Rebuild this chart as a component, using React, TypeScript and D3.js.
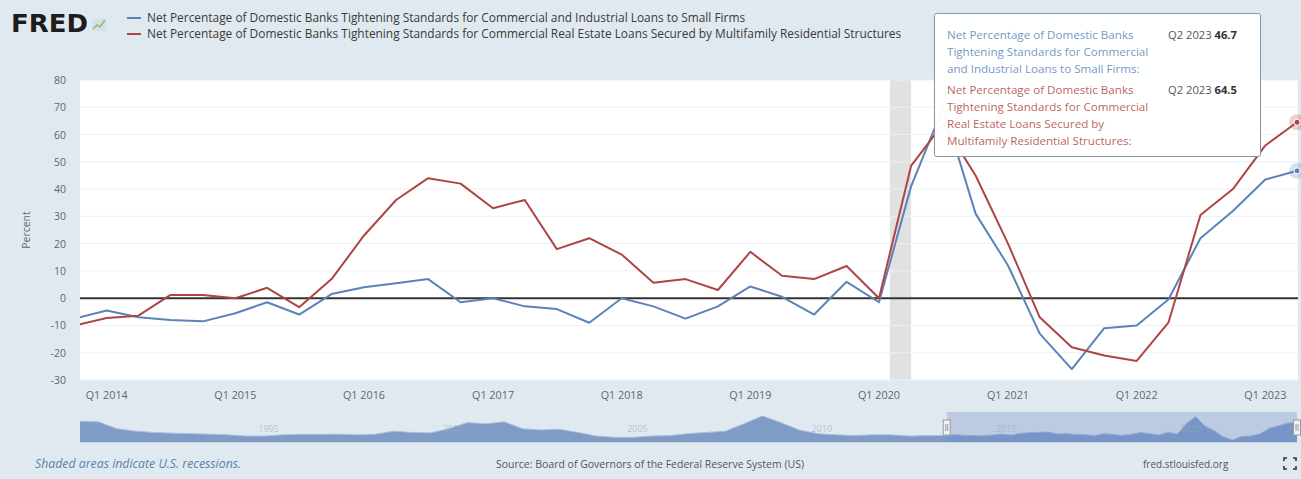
import React from "react";
import * as d3 from "d3";

// ---------- data ----------
const quarters = [
  "Q4 2013",
  "Q1 2014", "Q2 2014", "Q3 2014", "Q4 2014",
  "Q1 2015", "Q2 2015", "Q3 2015", "Q4 2015",
  "Q1 2016", "Q2 2016", "Q3 2016", "Q4 2016",
  "Q1 2017", "Q2 2017", "Q3 2017", "Q4 2017",
  "Q1 2018", "Q2 2018", "Q3 2018", "Q4 2018",
  "Q1 2019", "Q2 2019", "Q3 2019", "Q4 2019",
  "Q1 2020", "Q2 2020", "Q3 2020", "Q4 2020",
  "Q1 2021", "Q2 2021", "Q3 2021", "Q4 2021",
  "Q1 2022", "Q2 2022", "Q3 2022", "Q4 2022",
  "Q1 2023", "Q2 2023",
];

const smallFirmsCI = [
  -7.5,
  -4.5, -7, -8, -8.5,
  -5.5, -1.5, -6, 1.5,
  4, 5.5, 7, -1.5,
  0, -3, -4, -9,
  0, -3, -7.5, -3,
  4.3, 0.5, -6, 6,
  -1.5, 41, 70, 31,
  12, -13, -26, -11,
  -10, -0.5, 22, 32,
  43.5, 46.7,
];

const multifamilyCRE = [
  -10,
  -7.3, -6.4, 1.2, 1.2,
  0, 3.8, -3.3, 7,
  23, 36, 44, 42,
  33, 36, 18, 22,
  16, 5.7, 7, 3,
  17, 8.2, 7, 11.8,
  0, 48.5, 64, 45,
  20, -7, -18, -21,
  -23, -9, 30.5, 40,
  56, 64.5,
];

// navigator history of the first series (semi-annual estimates before the visible window)
const navHistoryDates = [
  "1990-04", "1990-10", "1991-04", "1991-10", "1992-04", "1992-10", "1993-04", "1993-10",
  "1994-04", "1994-10", "1995-04", "1995-10", "1996-04", "1996-10", "1997-04", "1997-10",
  "1998-04", "1998-10", "1999-04", "1999-10", "2000-04", "2000-10", "2001-04", "2001-10",
  "2002-04", "2002-10", "2003-04", "2003-10", "2004-04", "2004-10", "2005-04", "2005-10",
  "2006-04", "2006-10", "2007-04", "2007-10", "2008-04", "2008-10", "2009-04", "2009-10",
  "2010-04", "2010-10", "2011-04", "2011-10", "2012-04", "2012-10", "2013-04",
];
const navHistoryValues = [
  50, 48, 20, 10, 5, 2, 0, -2,
  -5, -10, -10, -5, -3, -3, -2, -5,
  -3, 10, 5, 3, 20, 45, 40, 48,
  20, 15, 18, 5, -10, -15, -15, -10,
  -8, 0, 5, 10, 40, 72, 45, 15,
  0, -5, -8, -5, -5, -10, -8,
];
const navTickYears = [1995, 2000, 2005, 2010, 2015, 2020];

const yTicks = [-30, -20, -10, 0, 10, 20, 30, 40, 50, 60, 70, 80];
const xTickLabels = [
  "Q1 2014", "Q1 2015", "Q1 2016", "Q1 2017", "Q1 2018",
  "Q1 2019", "Q1 2020", "Q1 2021", "Q1 2022", "Q1 2023",
];
const recessions = [["2020-02-01", "2020-04-01"]];

const seriesNames = [
  "Net Percentage of Domestic Banks Tightening Standards for Commercial and Industrial Loans to Small Firms",
  "Net Percentage of Domestic Banks Tightening Standards for Commercial Real Estate Loans Secured by Multifamily Residential Structures",
];
const tooltipLines = [
  ["Net Percentage of Domestic Banks", "Tightening Standards for Commercial", "and Industrial Loans to Small Firms:"],
  ["Net Percentage of Domestic Banks", "Tightening Standards for Commercial", "Real Estate Loans Secured by", "Multifamily Residential Structures:"],
];

// ---------- helpers ----------
const parseQ = (q: string) => {
  const [qq, yy] = q.split(" ");
  const n = +qq.slice(1);
  return new Date(Date.UTC(+yy, (n - 1) * 3, 1));
};
const parseYM = (s: string) => {
  const [y, m] = s.split("-");
  return new Date(Date.UTC(+y, +m - 1, 1));
};
const parseDate = (s: string) => {
  const [y, m, d] = s.split("-");
  return new Date(Date.UTC(+y, +m - 1, +d));
};

const BLUE = "#5b83ba";
const RED = "#ad4544";
const BG = "#e1e9f0";
const FONT = "'Open Sans', 'Noto Sans', sans-serif";

export default function App() {
  const W = 1301, H = 479;
  const plot = { left: 80, right: 1298, top: 80, bottom: 380 };

  const x = d3.scaleUtc()
    .domain([new Date(Date.UTC(2014, 0, 1)), new Date(Date.UTC(2020, 0, 1))])
    .range([106.7, 879]);
  const y = d3.scaleLinear().domain([-30, 80]).range([plot.bottom, plot.top]);

  const dates = quarters.map(parseQ);
  const s1 = dates.map((d, i) => ({ d, v: smallFirmsCI[i] }));
  const s2 = dates.map((d, i) => ({ d, v: multifamilyCRE[i] }));
  const line = d3.line<{ d: Date; v: number }>().x((p) => x(p.d)).y((p) => y(p.v));

  // navigator
  const nav = { left: 80, right: 1297, top: 412, bottom: 442 };
  const navData = [
    ...navHistoryDates.map((s, i) => ({ d: parseYM(s), v: navHistoryValues[i] })),
    ...s1,
  ];
  const nx = d3.scaleUtc()
    .domain([new Date(Date.UTC(1990, 3, 1)), dates[dates.length - 1]])
    .range([nav.left, nav.right]);
  const ny = d3.scaleLinear().domain([-30, 80]).range([nav.bottom - 1, nav.top + 2]);
  const navArea = d3.area<{ d: Date; v: number }>()
    .x((p) => nx(p.d)).y0(nav.bottom).y1((p) => ny(p.v));
  const navLine = d3.line<{ d: Date; v: number }>().x((p) => nx(p.d)).y((p) => ny(p.v));
  const selStart = nx(dates[0]);
  const selEnd = nx(dates[dates.length - 1]);

  const last = dates.length - 1;

  const handle = (hx: number) => (
    <g key={hx}>
      <rect x={hx - 3.5} y={420} width={7} height={15} fill="#f2f2f2" stroke="#999" strokeWidth={1} />
      <line x1={hx - 1} x2={hx - 1} y1={424} y2={431} stroke="#999" />
      <line x1={hx + 1} x2={hx + 1} y1={424} y2={431} stroke="#999" />
    </g>
  );

  return (
    <div style={{ position: "absolute", left: 0, top: 0 }}>
      <svg width={W} height={H} style={{ display: "block", fontFamily: FONT }}>
        <defs>
          <clipPath id="plotClip">
            <rect x={plot.left} y={plot.top} width={plot.right - plot.left} height={plot.bottom - plot.top} />
          </clipPath>
          <clipPath id="navClip">
            <rect x={nav.left} y={nav.top} width={nav.right - nav.left} height={nav.bottom - nav.top} />
          </clipPath>
        </defs>
        <rect x={0} y={0} width={W} height={H} fill={BG} />

        {/* header: logo */}
        <text x={11} y={32} fontSize={25} fontWeight={800} fill="#1d1d1d" textLength={77}
          lengthAdjust="spacingAndGlyphs" style={{ fontFamily: "'DejaVu Sans', sans-serif" }}>FRED</text>
        <g>
          <rect x={92} y={19} width={14} height={12} fill="#d6e0e8" />
          <polyline points="93,29 97,25 100,27 105,20" fill="none" stroke="#8fbf6a" strokeWidth={1.5} />
        </g>

        {/* legend */}
        {seriesNames.map((name, i) => (
          <g key={name}>
            <line x1={127} x2={141} y1={18 + i * 16} y2={18 + i * 16} stroke={i === 0 ? BLUE : RED} strokeWidth={2} />
            <text x={147} y={22 + i * 16} fontSize={11.9} fill="#3a3a3a">{name}</text>
          </g>
        ))}

        {/* plot background */}
        <rect x={plot.left} y={plot.top} width={plot.right - plot.left} height={plot.bottom - plot.top} fill="#ffffff" />

        {/* recession shading */}
        {recessions.map(([a, b]) => (
          <rect key={a} x={x(parseDate(a))} y={plot.top} width={x(parseDate(b)) - x(parseDate(a))}
            height={plot.bottom - plot.top} fill="#e1e1e1" />
        ))}

        {/* gridlines */}
        {yTicks.map((t) => (
          <line key={t} x1={plot.left} x2={plot.right} y1={y(t)} y2={y(t)} stroke="#edf0f4" strokeWidth={1} />
        ))}

        {/* y labels */}
        {yTicks.map((t) => (
          <text key={t} x={66} y={y(t) + 4} fontSize={10.5} fill="#666" textAnchor="end">{t}</text>
        ))}
        <text transform={`translate(30,${(plot.top + plot.bottom) / 2}) rotate(-90)`} fontSize={10.5}
          fill="#666" textAnchor="middle">Percent</text>

        {/* x labels */}
        {xTickLabels.map((l) => (
          <text key={l} x={x(parseQ(l))} y={399} fontSize={10.8} fill="#666" textAnchor="middle">{l}</text>
        ))}

        {/* zero line */}
        <line x1={plot.left} x2={plot.right} y1={y(0)} y2={y(0)} stroke="#333" strokeWidth={2} />

        {/* series */}
        <g clipPath="url(#plotClip)">
          <path d={line(s1) || ""} fill="none" stroke={BLUE} strokeWidth={2} strokeLinejoin="round" />
          <path d={line(s2) || ""} fill="none" stroke={RED} strokeWidth={2} strokeLinejoin="round" />
        </g>

        {/* hover markers */}
        <circle cx={x(dates[last])} cy={y(smallFirmsCI[last])} r={8} fill={BLUE} opacity={0.25} />
        <circle cx={x(dates[last])} cy={y(smallFirmsCI[last])} r={3} fill={BLUE} stroke="#fff" strokeWidth={1} />
        <circle cx={x(dates[last])} cy={y(multifamilyCRE[last])} r={8} fill={RED} opacity={0.25} />
        <circle cx={x(dates[last])} cy={y(multifamilyCRE[last])} r={3} fill={RED} stroke="#fff" strokeWidth={1} />

        {/* tooltip */}
        <g>
          <rect x={934.5} y={13.5} width={326} height={143} fill="#ffffff" fillOpacity={0.96}
            stroke="#8c939c" strokeWidth={1} rx={2} />
          {tooltipLines[0].map((t, i) => (
            <text key={"b" + i} x={947} y={39 + i * 17} fontSize={11.6} fill={BLUE} fillOpacity={0.85}>{t}</text>
          ))}
          {tooltipLines[1].map((t, i) => (
            <text key={"r" + i} x={947} y={94 + i * 17} fontSize={11.6} fill={RED} fillOpacity={0.85}>{t}</text>
          ))}
          <text x={1168} y={39} fontSize={11.2} fill="#555">
            {quarters[last]} <tspan fontWeight={700} fill="#333">{smallFirmsCI[last]}</tspan>
          </text>
          <text x={1168} y={94} fontSize={11.2} fill="#555">
            {quarters[last]} <tspan fontWeight={700} fill="#333">{multifamilyCRE[last]}</tspan>
          </text>
        </g>

        {/* navigator */}
        <g>
          <g clipPath="url(#navClip)">
            <path d={navArea(navData) || ""} fill="#7f9cc7" />
            <path d={navLine(navData) || ""} fill="none" stroke="#a9bedb" strokeWidth={1} />
          </g>
          <rect x={selStart} y={nav.top} width={selEnd - selStart} height={nav.bottom - nav.top}
            fill="rgba(102,133,194,0.3)" />
          {navTickYears.map((yr) => (
            <text key={yr} x={nx(new Date(Date.UTC(yr, 0, 1))) + 3} y={432} fontSize={9}
              fill="#9aa6b6" fillOpacity={0.6}>{yr}</text>
          ))}
          <line x1={nav.left} x2={nav.right} y1={nav.bottom + 0.5} y2={nav.bottom + 0.5} stroke="#c9d3de" />
          {handle(selStart)}
          {handle(selEnd)}
        </g>

        {/* footer */}
        <text x={35} y={468} fontSize={12.3} fontStyle="italic" fill="#5b7fae">Shaded areas indicate U.S. recessions.</text>
        <text x={650} y={468} fontSize={10.5} fill="#555" textAnchor="middle">Source: Board of Governors of the Federal Reserve System (US)</text>
        <text x={1143} y={468} fontSize={10} fill="#555">fred.stlouisfed.org</text>
        <g stroke="#333" strokeWidth={1.6} fill="none">
          <path d="M1284,461 v-3 h3 M1293,458 h3 v3 M1296,466 v3 h-3 M1287,469 h-3 v-3" />
        </g>
      </svg>
    </div>
  );
}
